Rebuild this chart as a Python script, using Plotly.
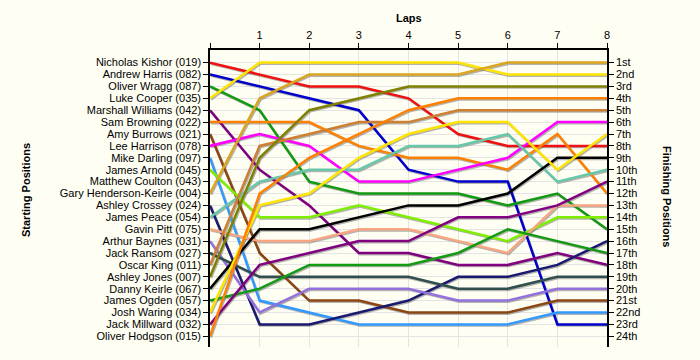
import plotly.graph_objects as go

laps = [0, 1, 2, 3, 4, 5, 6, 7, 8]

drivers = [
    "Nicholas Kishor (019)", "Andrew Harris (082)", "Oliver Wragg (087)", "Luke Cooper (035)",
    "Marshall Williams (042)", "Sam Browning (022)", "Amy Burrows (021)", "Lee Harrison (078)",
    "Mike Darling (097)", "James Arnold (045)", "Matthew Coulton (043)", "Gary Henderson-Keirle (004)",
    "Ashley Crossey (024)", "James Peace (054)", "Gavin Pitt (075)", "Arthur Baynes (031)",
    "Jack Ransom (027)", "Oscar King (011)", "Ashley Jones (007)", "Danny Keirle (067)",
    "James Ogden (057)", "Josh Waring (034)", "Jack Millward (032)", "Oliver Hodgson (015)",
]

finish_labels = ["1st", "2nd", "3rd", "4th", "5th", "6th", "7th", "8th", "9th", "10th", "11th", "12th",
                 "13th", "14th", "15th", "16th", "17th", "18th", "19th", "20th", "21st", "22nd", "23rd", "24th"]

# race position at the end of each lap (lap 0 = starting grid)
kishor_019 = [1, 2, 3, 3, 4, 7, 8, 8, 8]
harris_082 = [2, 3, 4, 5, 10, 11, 11, 23, 23]
wragg_087 = [3, 5, 11, 12, 12, 12, 13, 12, 15]
cooper_035 = [4, 1, 1, 1, 1, 1, 2, 2, 2]
williams_042 = [5, 10, 13, 17, 17, 18, 18, 17, 18]
browning_022 = [6, 6, 6, 8, 9, 9, 10, 7, 12]
burrows_021 = [7, 17, 21, 21, 22, 22, 22, 21, 21]
harrison_078 = [8, 7, 8, 11, 11, 10, 9, 6, 6]
darling_097 = [9, 21, 22, 23, 23, 23, 23, 22, 22]
arnold_045 = [10, 14, 14, 13, 14, 15, 16, 14, 14]
coulton_043 = []
henderson_keirle_004 = [12, 4, 2, 2, 2, 2, 1, 1, 1]
crossey_024 = [13, 23, 23, 22, 21, 19, 19, 18, 16]
peace_054 = [14, 11, 10, 10, 8, 8, 7, 11, 10]
pitt_075 = [15, 16, 16, 15, 15, 16, 17, 13, 13]
baynes_031 = [16, 22, 20, 20, 20, 21, 21, 20, 20]
ransom_027 = [17, 19, 19, 19, 19, 20, 20, 19, 19]
king_011 = [18, 8, 7, 6, 6, 5, 5, 5, 5]
jones_007 = [19, 9, 5, 4, 3, 3, 3, 3, 3]
keirle_067 = [20, 15, 15, 14, 13, 13, 12, 9, 9]
ogden_057 = [21, 20, 18, 18, 18, 17, 15, 16, 17]
waring_034 = [22, 13, 12, 9, 7, 6, 6, 10, 7]
millward_032 = [23, 18, 17, 16, 16, 14, 14, 13, 11]
hodgson_015 = [24, 12, 9, 7, 5, 4, 4, 4, 4]

series = [kishor_019, harris_082, wragg_087, cooper_035, williams_042, browning_022, burrows_021,
          harrison_078, darling_097, arnold_045, coulton_043, henderson_keirle_004, crossey_024,
          peace_054, pitt_075, baynes_031, ransom_027, king_011, jones_007, keirle_067, ogden_057,
          waring_034, millward_032, hodgson_015]

colors = ["#EE1111", "#0000CC", "#119911", "#FFE400", "#800080", "#FF8000", "#8B4513", "#FF00FF",
          "#3399FF", "#80EE00", "#888888", "#DAA520", "#191970", "#66C8A8", "#F8A582", "#9370DB",
          "#2F4F4F", "#CD7F32", "#808000", "#000000", "#139A13", "#FFE400", "#800080", "#FF8000"]

FONT = "Liberation Sans, Arial, sans-serif"
BG = "#FEFEF3"

fig = go.Figure()

# soft drop shadows, then coloured lines
for s in series:
    if not s:
        continue
    fig.add_trace(go.Scatter(x=[v + 0.02 for v in laps], y=[p + 0.1 for p in s], mode="lines",
                             line=dict(color="rgba(90,90,90,0.45)", width=2.5),
                             hoverinfo="skip", showlegend=False))
for name, s, c in zip(drivers, series, colors):
    if not s:
        continue
    fig.add_trace(go.Scatter(x=laps, y=s, mode="lines", name=name,
                             line=dict(color=c, width=2.5), showlegend=False))

# invisible trace to carry the right-hand axis
fig.add_trace(go.Scatter(x=[0, 8], y=[1, 24], yaxis="y2", mode="markers",
                         marker=dict(opacity=0), hoverinfo="skip", showlegend=False))

yrange = [24.9, -0.06]
fig.update_layout(
    width=700, height=360,
    margin=dict(l=210, r=93, t=50, b=13),
    paper_bgcolor=BG, plot_bgcolor=BG,
    font=dict(family=FONT, size=11, color="#000000"),
    xaxis=dict(range=[0, 8], side="top", tickvals=laps, ticktext=[""] + [str(v) for v in laps[1:]],
               showgrid=True, gridcolor="#E4E4E4", gridwidth=1, zeroline=False,
               showline=True, linecolor="#000000", linewidth=1.5, automargin=False,
               ticks="outside", ticklen=5, tickcolor="#000000", tickfont=dict(size=11)),
    yaxis=dict(range=yrange, tickvals=list(range(1, 25)), ticktext=drivers,
               showgrid=True, gridcolor="#E4E4E4", gridwidth=1, zeroline=False,
               showline=True, linecolor="#000000", linewidth=1.5, automargin=False,
               ticks="outside", ticklen=5, tickcolor="#000000", tickfont=dict(size=11)),
    yaxis2=dict(range=yrange, overlaying="y", side="right", tickvals=list(range(1, 25)),
                ticktext=finish_labels, showgrid=False, zeroline=False,
                showline=True, linecolor="#000000", linewidth=1.5, automargin=False,
                ticks="outside", ticklen=5, tickcolor="#000000", tickfont=dict(size=11)),
    annotations=[
        dict(text="<b>Laps</b>", xref="paper", yref="paper", x=0.5, y=1 + (50 - 18) / 297,
             showarrow=False, xanchor="center", yanchor="middle", font=dict(size=11)),
        dict(text="<b>Starting Positions</b>", xref="paper", yref="paper",
             x=(26 - 210) / 397, y=1 - (190 - 50) / 297, textangle=-90,
             showarrow=False, xanchor="center", yanchor="middle", font=dict(size=11)),
        dict(text="<b>Finishing Positions</b>", xref="paper", yref="paper",
             x=(667 - 210) / 397, y=1 - (196 - 50) / 297, textangle=90,
             showarrow=False, xanchor="center", yanchor="middle", font=dict(size=11)),
    ],
)

fig.write_html("out.html", config={"displayModeBar": False},
               post_script="document.body.style.margin='0px';document.body.style.background='" + BG + "';")
